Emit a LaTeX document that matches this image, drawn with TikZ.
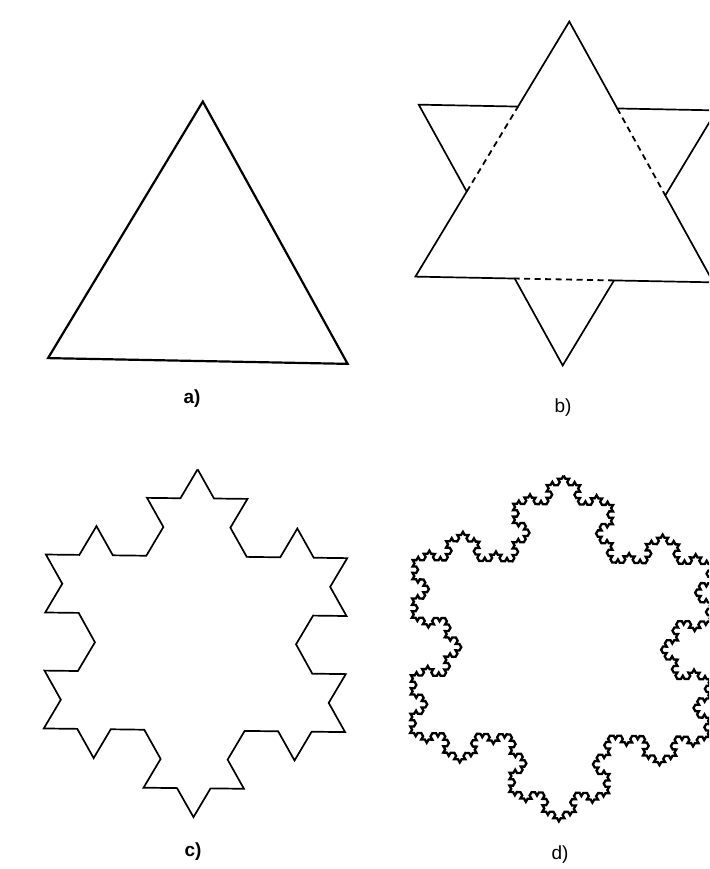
\documentclass[tikz,border=0pt]{standalone}
\usepackage{fontspec}
\setmainfont{Liberation Sans}
\usetikzlibrary{decorations.fractals,calc}
\begin{document}
\begin{tikzpicture}[x=1pt,y=1pt,
  lbl/.style={font=\fontsize{19}{22}\selectfont, inner sep=0pt, text=black},
  outline/.style={draw=black, line join=miter, line cap=butt},
  hidden/.style={draw=black, dash pattern=on 6pt off 4.5pt},
  koch/.style={outline, decoration=Koch snowflake}]
\useasboundingbox (0,0) rectangle (709,-869);
\clip (0,0) rectangle (709,-869);

% ---------- a) triangle ----------
\coordinate (ca) at (199.5,-274.5);
\coordinate (aT) at ($(ca)+(88.9:173)$);
\coordinate (aR) at ($(ca)+(328.9:173)$);
\coordinate (aL) at ($(ca)+(208.9:173)$);
\draw[outline, line width=2.2pt] (aT) -- (aR) -- (aL) -- cycle;
\node[lbl, font=\fontsize{19}{22}\selectfont\bfseries] (la) at (192,-399) {a)};

% ---------- b) first step ----------
\coordinate (cb) at (566,-193.5);
\coordinate (bT) at ($(cb)+(88.9:172)$);
\coordinate (bR) at ($(cb)+(328.9:172)$);
\coordinate (bL) at ($(cb)+(208.9:172)$);
\coordinate (bsR) at ($(cb)+(28.9:172)$);
\coordinate (bsB) at ($(cb)+(268.9:172)$);
\coordinate (bsL) at ($(cb)+(148.9:172)$);
\coordinate (b1) at ($(bT)!1/3!(bR)$);
\coordinate (b2) at ($(bT)!2/3!(bR)$);
\coordinate (b3) at ($(bR)!1/3!(bL)$);
\coordinate (b4) at ($(bR)!2/3!(bL)$);
\coordinate (b5) at ($(bL)!1/3!(bT)$);
\coordinate (b6) at ($(bL)!2/3!(bT)$);
\draw[outline, line width=1.7pt] (bT) -- (b1) -- (bsR) -- (b2) -- (bR) -- (b3) -- (bsB) -- (b4) -- (bL) -- (b5) -- (bsL) -- (b6) -- cycle;
\draw[hidden, line width=1.8pt] (b1) -- (b2);
\draw[hidden, line width=1.8pt] (b3) -- (b4);
\draw[hidden, line width=1.8pt] (b5) -- (b6);
\node[lbl] (lb) at (563,-408) {b)};

% ---------- c) second step ----------
\coordinate (cc) at (195.5,-643.3);
\coordinate (cT) at ($(cc)+(89.3:174)$);
\coordinate (cR) at ($(cc)+(329.3:174)$);
\coordinate (cL) at ($(cc)+(209.3:174)$);
\draw[koch, line width=1.7pt] decorate{decorate{(cT) -- (cR) -- (cL) -- (cT)}};
\node[lbl, font=\fontsize{19}{22}\selectfont\bfseries] (lc) at (193,-852) {c)};

% ---------- d) fourth step ----------
\coordinate (cd) at (561.2,-648.5);
\coordinate (dT) at ($(cd)+(89.2:173)$);
\coordinate (dR) at ($(cd)+(329.2:173)$);
\coordinate (dL) at ($(cd)+(209.2:173)$);
\draw[koch, line width=2.3pt] decorate{decorate{decorate{decorate{(dT) -- (dR) -- (dL) -- (dT)}}}};
\node[lbl] (ld) at (560,-855) {d)};
\end{tikzpicture}
\end{document}
